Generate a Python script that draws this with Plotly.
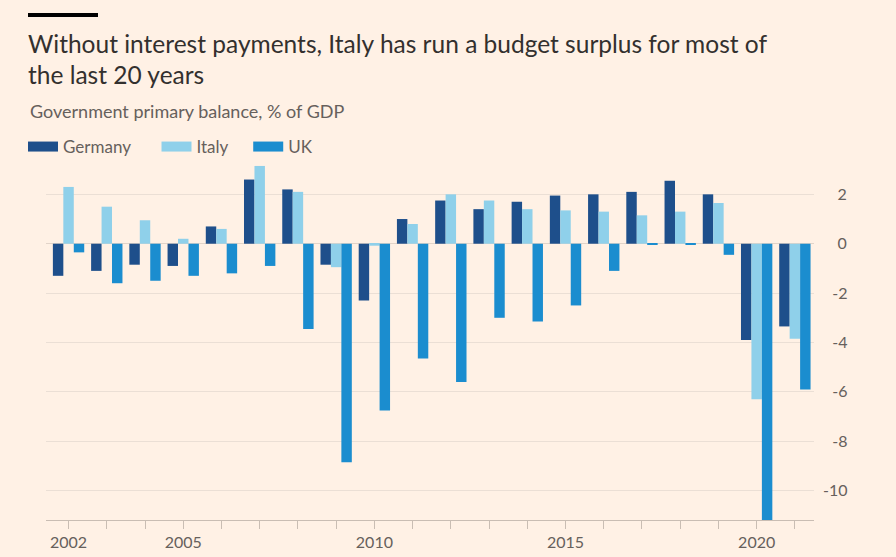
import plotly.graph_objs as go

years = list(range(2002, 2022))
germany = [-1.3, -1.1, -0.85, -0.9, 0.7, 2.6, 2.2, -0.85, -2.3, 1.0,
           1.75, 1.4, 1.7, 1.95, 2.0, 2.1, 2.55, 2.0, -3.9, -3.35]
italy = [2.3, 1.5, 0.95, 0.2, 0.6, 3.15, 2.1, -0.95, -0.08, 0.8,
         2.0, 1.75, 1.4, 1.35, 1.3, 1.15, 1.3, 1.65, -6.3, -3.85]
uk = [-0.35, -1.6, -1.5, -1.3, -1.2, -0.9, -3.45, -8.85, -6.75, -4.65,
      -5.6, -3.0, -3.15, -2.5, -1.1, -0.05, -0.05, -0.45, -11.6, -5.9]

x_labels = {2002: "2002", 2005: "2005", 2010: "2010", 2015: "2015", 2020: "2020"}
y_vals = [2, 0, -2, -4, -6, -8, -10]
y_text = ["\u2007\u20042", "\u2007\u20040", "\u2007-2", "\u2007-4", "\u2007-6", "\u2007-8", "-10"]

title = "Without interest payments, Italy has run a budget surplus for most of<br>the last 20 years"
subtitle = "Government primary balance, % of GDP"

colors = {"Germany": "#1e4f8b", "Italy": "#8fd0ea", "UK": "#1b8dcf"}
series = {"Germany": germany, "Italy": italy, "UK": uk}
# extra space after legend names to spread the entries like the original
legend_pad = {"Germany": "\u2003\u2004\u2009", "Italy": "\u2003\u2009", "UK": ""}

bg = "#fff1e5"
grey = "#66605c"
font = "Lato"

# plot area: x 46..814, y 162..520
pw, ph = 768, 358


def px_x(v):
    return (v - 46) / pw


def px_y(v):
    return (520 - v) / ph


fig = go.Figure()
for name, vals in series.items():
    fig.add_trace(go.Bar(x=years, y=vals, name=name, marker_color=colors[name],
                         marker_line_width=0, showlegend=False))
    # thick line as legend key
    fig.add_trace(go.Scatter(x=[None], y=[None], mode="lines",
                             name=name + legend_pad[name],
                             line=dict(color=colors[name], width=10)))

fig.update_layout(
    width=896,
    height=557,
    paper_bgcolor=bg,
    plot_bgcolor=bg,
    barmode="group",
    bargap=0.18,
    bargroupgap=0,
    margin=dict(l=46, r=82, t=162, b=37, autoexpand=False),
    font=dict(family=font, color=grey, size=16),
    title=dict(text=title, x=28 / 896, xanchor="left", xref="container",
               y=1 - 52.5 / 557, yanchor="middle", yref="container",
               pad=dict(l=0, r=0, t=0, b=0),
               font=dict(family=font, size=24.5, color="#33302e")),
    legend=dict(orientation="h", x=px_x(23), xanchor="left",
                y=px_y(147), yanchor="middle", font=dict(size=17, color=grey),
                bgcolor="rgba(0,0,0,0)", itemclick=False),
    xaxis=dict(
        range=[2001.41, 2021.5],
        tickvals=years,
        ticktext=[x_labels.get(y, "") for y in years],
        ticks="outside", ticklen=8, tickcolor="#c9bdb3",
        showline=True, linecolor="#c9bdb3", linewidth=1,
        showgrid=False, zeroline=False,
        tickfont=dict(size=16, color=grey),
    ),
    yaxis=dict(
        range=[-11.19, 3.31],
        side="right",
        tickvals=y_vals,
        ticktext=y_text,
        ticks="",
        showgrid=True, gridcolor="#ebdfd5", gridwidth=1,
        zeroline=True, zerolinecolor="#e2d4c9", zerolinewidth=1,
        showline=False,
        tickfont=dict(size=16, color=grey),
        ticklabelstandoff=8,
    ),
    shapes=[dict(type="rect", xref="paper", yref="paper",
                 x0=px_x(28), x1=px_x(98), y0=px_y(17), y1=px_y(13),
                 fillcolor="#000000", line_width=0)],
    annotations=[dict(text=subtitle, xref="paper", yref="paper",
                      x=px_x(28), y=px_y(111), xanchor="left", yanchor="middle",
                      showarrow=False, font=dict(size=18, color=grey))],
)

fig.write_html(
    "out.html",
    config={"displayModeBar": False},
    post_script="document.body.style.margin='0';document.body.style.background='%s';" % bg,
)
